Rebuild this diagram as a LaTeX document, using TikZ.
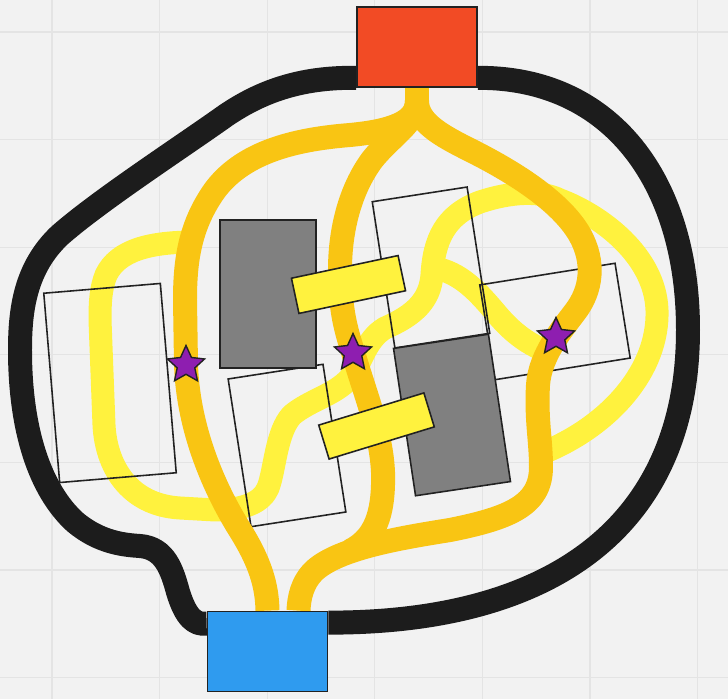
\documentclass[tikz,border=0pt]{standalone}
\usepackage{xcolor}
\usepackage{tikz}
\usetikzlibrary{shapes.geometric}
\definecolor{bgcol}{HTML}{F2F2F2}
\definecolor{gridcol}{HTML}{E4E4E4}
\definecolor{loopblack}{HTML}{1C1C1C}
\definecolor{trunkorange}{HTML}{F9C513}
\definecolor{laneyellow}{HTML}{FFF23E}
\definecolor{boxred}{HTML}{F24B25}
\definecolor{boxblue}{HTML}{2F9BEF}
\definecolor{blockgray}{HTML}{808080}
\definecolor{starpurple}{HTML}{8E1EB0}
\definecolor{edgecol}{HTML}{222222}
\pgfdeclarelayer{grid}
\pgfdeclarelayer{tracks}
\pgfsetlayers{grid,tracks,main}

\begin{document}
\begin{tikzpicture}[x=0.02cm, y=-0.02cm,
  loopline/.style={line width=0.48cm, draw=loopblack, line join=round},
  trunk/.style={line width=0.48cm, draw=trunkorange, line join=round},
  lane/.style={line width=0.46cm, draw=laneyellow, line join=round},
  frame/.style={draw=edgecol, line width=0.9pt, inner sep=0pt},
  plot/.style={frame, fill=blockgray},
  bar/.style={frame, fill=laneyellow},
  starmark/.style={star, star points=5, star point ratio=2.1, minimum size=0.78cm,
    inner sep=0pt, fill=starpurple, draw=edgecol, line width=0.8pt},
  port/.style={draw=edgecol, line width=1pt, inner sep=0pt,
    minimum width=2.4cm, minimum height=1.6cm}]

\useasboundingbox (0,0) rectangle (728,699);

% ---- Terminals (top source, bottom sink) ----
\node[port, fill=boxred] (src) at (417,47) {};
\node[port, fill=boxblue] (dst) at (267.5,651.5) {};

% ---- Bars and stars on top ----
\node[bar, minimum width=2.18cm, minimum height=0.72cm, rotate=12] (bar1) at (348.5,284.5) {};
\node[bar, minimum width=2.2cm, minimum height=0.71cm, rotate=17] (bar2) at (376.5,426) {};
\node[starmark] (s1) at (186,365) {};
\node[starmark] (s2) at (353,353) {};
\node[starmark] (s3) at (556,337) {};

% ---- Background grid ----
\begin{pgfonlayer}{grid}
\fill[bgcol] (0,0) rectangle (728,699);
\foreach \i in {0,...,6} {
  \draw[gridcol, line width=0.6pt] (52+107.6*\i, 0) -- (52+107.6*\i, 699);
  \draw[gridcol, line width=0.6pt] (0, 32+107.6*\i) -- (728, 32+107.6*\i);
}
\end{pgfonlayer}

\begin{pgfonlayer}{tracks}
% Black outer loop, left and right halves
\draw[loopline] ([yshift=0.2cm]src.south west) .. controls (300,77) and (260,92) .. (225,116)
  .. controls (180,148) and (100,200) .. (60,235)
  .. controls (25,268) and (20,310) .. (20,350)
  .. controls (20,430) and (40,490) .. (75,522)
  .. controls (100,543) and (125,545) .. (140,546)
  .. controls (165,548) and (172,570) .. (178,592)
  .. controls (186,618) and (195,625) .. ([yshift=-0.26cm]dst.north west);
\draw[loopline] ([yshift=0.2cm]src.south east) .. controls (610,77) and (688,180) .. (688,330)
  .. controls (688,520) and (560,623) .. ([yshift=-0.24cm]dst.north east);

% Light yellow lanes
\draw[lane] (195,242) .. controls (150,242) and (118,250) .. (106,275)
  .. controls (101,288) and (100,300) .. (100,320)
  -- (104,425)
  .. controls (106,465) and (128,505) .. (180,508)
  -- (215,510)
  .. controls (245,510) and (262,502) .. (268,488)
  .. controls (275,470) and (276,432) .. (292,415)
  .. controls (310,400) and (335,395) .. (350,378)
  .. controls (362,363) and (365,340) .. (385,328)
  .. controls (415,315) and (430,300) .. (432,275)
  .. controls (434,240) and (445,215) .. (480,202)
  .. controls (510,192) and (540,190) .. (560,200)
  .. controls (600,215) and (655,255) .. (657,310)
  .. controls (659,370) and (610,425) .. (545,452);
\draw[lane] (434,268) .. controls (460,272) and (478,292) .. (495,312)
  .. controls (510,330) and (525,343) .. (548,352);

% Outline tiles
\node[frame, minimum width=2.34cm, minimum height=3.8cm, rotate=4.8] (w1) at (110,383) {};
\node[frame, minimum width=1.92cm, minimum height=2.99cm, rotate=8.8] (w2) at (287,445.5) {};
\node[frame, minimum width=1.92cm, minimum height=2.96cm, rotate=8.8] (w3) at (431,267.5) {};
\node[frame, minimum width=2.74cm, minimum height=1.92cm, rotate=9.1] (w4) at (555,321.5) {};

% Gray blocks
\node[plot, minimum width=1.92cm, minimum height=2.96cm] (g1) at (268,294) {};
\node[plot, minimum width=1.92cm, minimum height=2.98cm, rotate=8.5] (g2) at (452,415) {};

% Orange trunks from source to sink
\draw[trunk] (src.south) -- ++(0,13)
  .. controls (417,122) and (392,131) .. (350,135)
  .. controls (300,139) and (245,150) .. (215,190)
  .. controls (190,225) and (185,260) .. (185,300)
  -- (186,364)
  .. controls (188,430) and (215,490) .. (240,530)
  .. controls (260,562) and (267,585) .. (dst.north);
\draw[trunk] (src.south) -- ++(0,13)
  .. controls (417,122) and (440,135) .. (470,150)
  .. controls (510,170) and (560,200) .. (580,235)
  .. controls (595,262) and (592,290) .. (575,312)
  .. controls (563,328) and (540,355) .. (538,385)
  .. controls (536,420) and (541,440) .. (541,467)
  .. controls (541,505) and (510,518) .. (450,530)
  .. controls (400,538) and (340,548) .. (315,570)
  .. controls (302,582) and (299,598) .. ([xshift=0.62cm]dst.north);
% middle trunk joins the right one above the sink
\draw[trunk] (src.south) -- ++(0,13)
  .. controls (417,122) and (390,137) .. (372,160)
  .. controls (350,190) and (340,230) .. (340,270)
  .. controls (340,310) and (346,330) .. (353,352)
  .. controls (365,395) and (385,440) .. (383,485)
  .. controls (382,520) and (372,540) .. (350,551);
\end{pgfonlayer}

\end{tikzpicture}
\end{document}
